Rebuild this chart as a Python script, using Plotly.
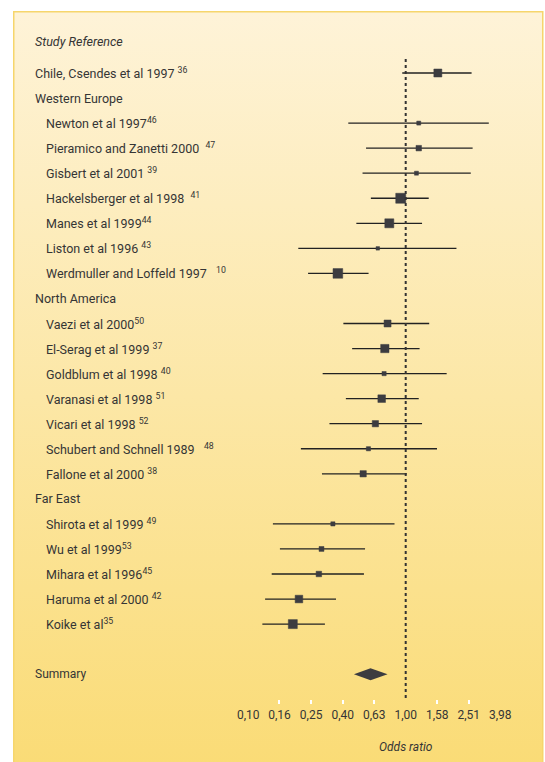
import base64
import plotly.graph_objects as go

# ---------------- data ----------------
row_labels = [
    "Chile, Csendes et al 1997 <sup>36</sup>",
    "Western Europe",
    "Newton et al 1997<sup>46</sup>",
    "Pieramico and Zanetti 2000\u00a0\u00a0<sup>47</sup>",
    "Gisbert et al 2001 <sup>39</sup>",
    "Hackelsberger et al 1998\u00a0\u00a0<sup>41</sup>",
    "Manes et al 1999<sup>44</sup>",
    "Liston et al 1996 <sup>43</sup>",
    "Werdmuller and Loffeld 1997\u00a0\u00a0\u00a0<sup>10</sup>",
    "North America",
    "Vaezi et al 2000<sup>50</sup>",
    "El-Serag et al 1999 <sup>37</sup>",
    "Goldblum et al 1998 <sup>40</sup>",
    "Varanasi et al 1998 <sup>51</sup>",
    "Vicari et al 1998 <sup>52</sup>",
    "Schubert and Schnell 1989\u00a0\u00a0\u00a0<sup>48</sup>",
    "Fallone et al 2000 <sup>38</sup>",
    "Far East",
    "Shirota et al 1999 <sup>49</sup>",
    "Wu et al 1999<sup>53</sup>",
    "Mihara et al 1996<sup>45</sup>",
    "Haruma et al 2000 <sup>42</sup>",
    "Koike et al<sup>35</sup>",
]
row_indent = [0, 0, 1, 1, 1, 1, 1, 1, 1, 0, 1, 1, 1, 1, 1, 1, 1, 0, 1, 1, 1, 1, 1]

odds_ratio = [1.60, None, 1.21, 1.21, 1.17, 0.93, 0.787, 0.665, 0.371, None,
              0.767, 0.737, 0.729, 0.704, 0.642, 0.580, 0.537, None,
              0.345, 0.292, 0.281, 0.210, 0.192]
ci_low = [0.951, None, 0.432, 0.560, 0.532, 0.601, 0.486, 0.208, 0.240, None,
          0.402, 0.457, 0.297, 0.417, 0.328, 0.216, 0.294, None,
          0.1435, 0.159, 0.141, 0.128, 0.123]
ci_high = [2.62, None, 3.37, 2.66, 2.59, 1.40, 1.27, 2.10, 0.581, None,
           1.41, 1.225, 1.82, 1.21, 1.27, 1.58, 1.015, None,
           0.849, 0.552, 0.543, 0.361, 0.307]
box_size = [8, None, 4, 5.5, 4, 10, 9, 3.5, 9.7, None,
            7, 8.3, 4.2, 7.6, 6.3, 4.2, 6.3, None,
            4.2, 4.9, 5.5, 7.6, 9]

summary_or = 0.598
summary_low = 0.469
summary_high = 0.767

tick_values = [0.10, 0.158, 0.251, 0.398, 0.631, 1.00, 1.585, 2.512, 3.981]
tick_labels = ["0,10", "0,16", "0,25", "0,40", "0,63", "1,00", "1,58", "2,51", "3,98"]
tick_marks = [0.158, 0.251, 0.398, 0.631, 1.585, 2.512]

# ---------------- styling ----------------
W, H = 545, 762
PLOT_BOTTOM = 699
TEXT = "#353535"
FONT = "Roboto"
MARK = "#3c3c40"

study_idx = [i for i, v in enumerate(odds_ratio) if v is not None]
xs = [odds_ratio[i] for i in study_idx]
ys = [i for i in study_idx]
err_plus = [ci_high[i] - odds_ratio[i] for i in study_idx]
err_minus = [odds_ratio[i] - ci_low[i] for i in study_idx]
sizes = [box_size[i] for i in study_idx]

fig = go.Figure()

# summary diamond
summary_row = len(row_labels) + 1
half_h = 0.24
fig.add_trace(go.Scatter(
    x=[summary_low, summary_or, summary_high, summary_or, summary_low],
    y=[summary_row, summary_row - half_h, summary_row, summary_row + half_h, summary_row],
    mode="lines", fill="toself", fillcolor=MARK, line=dict(width=0, color=MARK),
    hoverinfo="skip", showlegend=False))

# confidence intervals (drawn first, under the boxes)
fig.add_trace(go.Scatter(
    x=xs, y=ys, mode="markers",
    marker=dict(size=1, color="rgba(0,0,0,0)"),
    error_x=dict(type="data", symmetric=False, array=err_plus, arrayminus=err_minus,
                 width=0, thickness=1.3, color="#222222"),
    showlegend=False, hoverinfo="skip"))

# point estimates
fig.add_trace(go.Scatter(
    x=xs, y=ys, mode="markers",
    marker=dict(symbol="square", size=sizes, color=MARK, opacity=1,
                line=dict(width=0.5, color=MARK)),
    showlegend=False, hoverinfo="skip"))

# dotted reference line at OR = 1
fig.add_shape(type="line", xref="x", yref="y", x0=1, x1=1, y0=-0.56, y1=25.2,
              line=dict(color="#333333", width=2, dash="3px,3px"), layer="above")

# labels
annotations = []
for i, lab in enumerate(row_labels):
    xpx = 33 if row_indent[i] == 0 else 43.5
    annotations.append(dict(x=xpx / W, xref="paper", y=i, yref="y", text=lab,
                            showarrow=False, xanchor="left", yanchor="middle",
                            font=dict(family=FONT, size=12.5, color=TEXT)))
annotations.append(dict(x=33 / W, xref="paper", y=-1.24, yref="y",
                        text="<i>Study Reference</i>", showarrow=False,
                        xanchor="left", yanchor="middle",
                        font=dict(family=FONT, size=12.5, color=TEXT)))
annotations.append(dict(x=33 / W, xref="paper", y=summary_row, yref="y",
                        text="Summary", showarrow=False, xanchor="left",
                        yanchor="middle", font=dict(family=FONT, size=12, color=TEXT)))
annotations.append(dict(x=405.7 / W, xref="paper", y=(PLOT_BOTTOM - 747) / PLOT_BOTTOM,
                        yref="paper", text="<i>Odds ratio</i>", showarrow=False,
                        xanchor="center", yanchor="middle",
                        font=dict(family=FONT, size=12, color=TEXT)))

# background gradient panel
svg = ('<svg xmlns="http://www.w3.org/2000/svg" width="532" height="751" '
       'viewBox="0 0 532 751" preserveAspectRatio="none"><defs>'
       '<linearGradient id="g" x1="0" y1="0" x2="0" y2="1">'
       '<stop offset="0" stop-color="#FEF3D8"/><stop offset="1" stop-color="#FADB74"/>'
       '</linearGradient></defs>'
       '<rect x="0.75" y="0.75" width="529" height="770" fill="url(#g)" '
       'stroke="#F6D66C" stroke-width="1.5"/></svg>')
svg_uri = "data:image/svg+xml;base64," + base64.b64encode(svg.encode()).decode()

fig.update_layout(
    width=W, height=H,
    margin=dict(l=0, r=0, t=0, b=H - PLOT_BOTTOM, pad=0),
    paper_bgcolor="white", plot_bgcolor="rgba(0,0,0,0)",
    annotations=annotations,
    images=[dict(source=svg_uri, xref="paper", yref="paper",
                 x=13 / W, y=(PLOT_BOTTOM - 11) / PLOT_BOTTOM,
                 sizex=532 / W, sizey=751 / PLOT_BOTTOM,
                 xanchor="left", yanchor="top", sizing="stretch", layer="below")],
    xaxis=dict(type="log", range=[-405.7 / 157.5, (W - 405.7) / 157.5],
               tickmode="array", tickvals=tick_values, ticktext=tick_labels,
               ticks="outside", ticklen=5, tickcolor="rgba(0,0,0,0)",
               tickfont=dict(family=FONT, size=12, color=TEXT),
               showgrid=False, zeroline=False, showline=False,
               minor=dict(tickmode="array", tickvals=tick_marks, ticks="outside",
                          ticklen=4, tickwidth=1.5, tickcolor="white", showgrid=False)),
    yaxis=dict(range=[(PLOT_BOTTOM - 73) / 25.05, -73 / 25.05], visible=False,
               showgrid=False, zeroline=False),
)

fig.write_html("out.html", config={"displayModeBar": False},
               post_script="document.body.style.margin='0px';")
